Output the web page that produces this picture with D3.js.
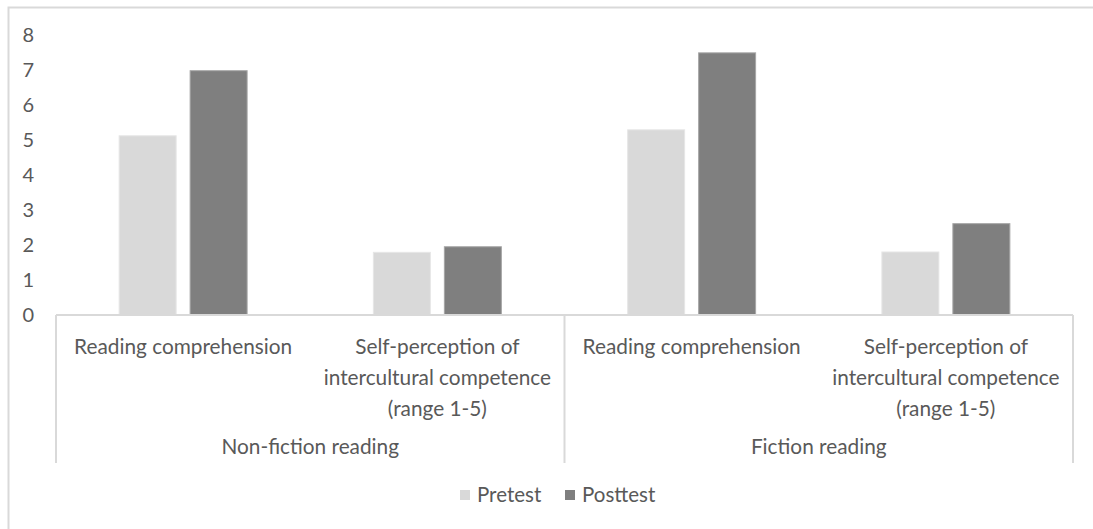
<!DOCTYPE html>
<html>
<head>
<meta charset="utf-8">
<script src="https://cdn.jsdelivr.net/npm/d3@7"></script>
<style>
  body { margin: 0; background: #fff; }
  text { font-family: Lato, "Open Sans", sans-serif; fill: #595959; }
</style>
</head>
<body>
<svg id="chart"></svg>
<script>
// chart data
const groups = ["Non-fiction reading", "Fiction reading"];
const measures = ["Reading comprehension", "Self-perception of intercultural competence (range 1-5)"];
const measureLines = [["Reading comprehension"], ["Self-perception of", "intercultural competence", "(range 1-5)"]];
const seriesNames = ["Pretest", "Posttest"];
const pretest = [5.12, 1.79, 5.29, 1.8];
const posttest = [6.98, 1.95, 7.49, 2.61];
const yTicks = [0, 1, 2, 3, 4, 5, 6, 7, 8];
const colors = ["#d9d9d9", "#7f7f7f"];

const W = 1093, H = 529;
const margin = {top: 35, left: 56};
const width = 1073 - margin.left;
const height = 315 - margin.top;

const svg = d3.select("#chart").attr("width", W).attr("height", H);

// outer frame
svg.append("path")
    .attr("d", `M8.5,${H} V7.5 H${W}`)
    .attr("fill", "none")
    .attr("stroke", "#d9d9d9")
    .attr("stroke-width", 2);

const g = svg.append("g").attr("transform", `translate(${margin.left},${margin.top})`);

// categories: group x measure
const cats = [];
groups.forEach((gr, gi) => measures.forEach((m, mi) => cats.push({gi, mi, key: gr + "|" + m})));

const outer = d3.scaleBand().domain(cats.map(d => d.key)).range([0, width]);
const x0 = d3.scaleBand().domain(cats.map(d => d.key)).range([0, width]).paddingInner(0.4966).paddingOuter(0.2483);
const x1 = d3.scaleBand().domain(seriesNames).range([0, x0.bandwidth()]).paddingInner(0.197).paddingOuter(0);
const y = d3.scaleLinear().domain([0, 8]).range([height, 0]);

// y axis labels
const yAxis = g.append("g").call(d3.axisLeft(y).tickValues(yTicks).tickSize(0).tickPadding(22));
yAxis.select(".domain").remove();
yAxis.selectAll("text").style("font-size", "20px").style("font-family", "Lato, sans-serif").attr("fill", "#595959");

// bars
const series = [pretest, posttest];
seriesNames.forEach((s, si) => {
  g.selectAll(".bar" + si)
    .data(cats)
    .join("rect")
    .attr("class", "bar" + si)
    .attr("x", d => x0(d.key) + x1(s))
    .attr("y", (d, i) => y(series[si][i]))
    .attr("width", x1.bandwidth())
    .attr("height", (d, i) => height - y(series[si][i]))
    .attr("fill", colors[si])
    .attr("stroke", si === 0 ? "#e6e6e6" : "#a6a6a6")
    .attr("stroke-width", 1);
});

// category axis lines
const lineColor = "#d9d9d9";
g.append("line").attr("x1", 0).attr("x2", width).attr("y1", height).attr("y2", height)
  .attr("stroke", lineColor).attr("stroke-width", 2);
[0, width / 2, width].forEach(xx => {
  g.append("line").attr("x1", xx).attr("x2", xx).attr("y1", height).attr("y2", height + 148)
    .attr("stroke", lineColor).attr("stroke-width", 2);
});

// measure labels
cats.forEach(d => {
  const cx = outer(d.key) + outer.bandwidth() / 2;
  const t = g.append("text").attr("text-anchor", "middle").style("font-size", "20.8px");
  measureLines[d.mi].forEach((ln, li) => {
    t.append("tspan").attr("x", cx).attr("y", height + 39 + li * 31).text(ln);
  });
});

// group labels
groups.forEach((gr, gi) => {
  g.append("text")
    .attr("x", width / 4 + gi * width / 2)
    .attr("y", height + 139)
    .attr("text-anchor", "middle")
    .style("font-size", "20.8px")
    .text(gr);
});

// legend
const legend = svg.append("g").attr("transform", "translate(460,495)");
const legX = [0, 105];
seriesNames.forEach((s, si) => {
  legend.append("rect").attr("x", legX[si]).attr("y", -5).attr("width", 10).attr("height", 10).attr("fill", colors[si]);
  legend.append("text").attr("x", legX[si] + 17).attr("y", 7).style("font-size", "20.5px").text(s);
});
</script>
</body>
</html>
